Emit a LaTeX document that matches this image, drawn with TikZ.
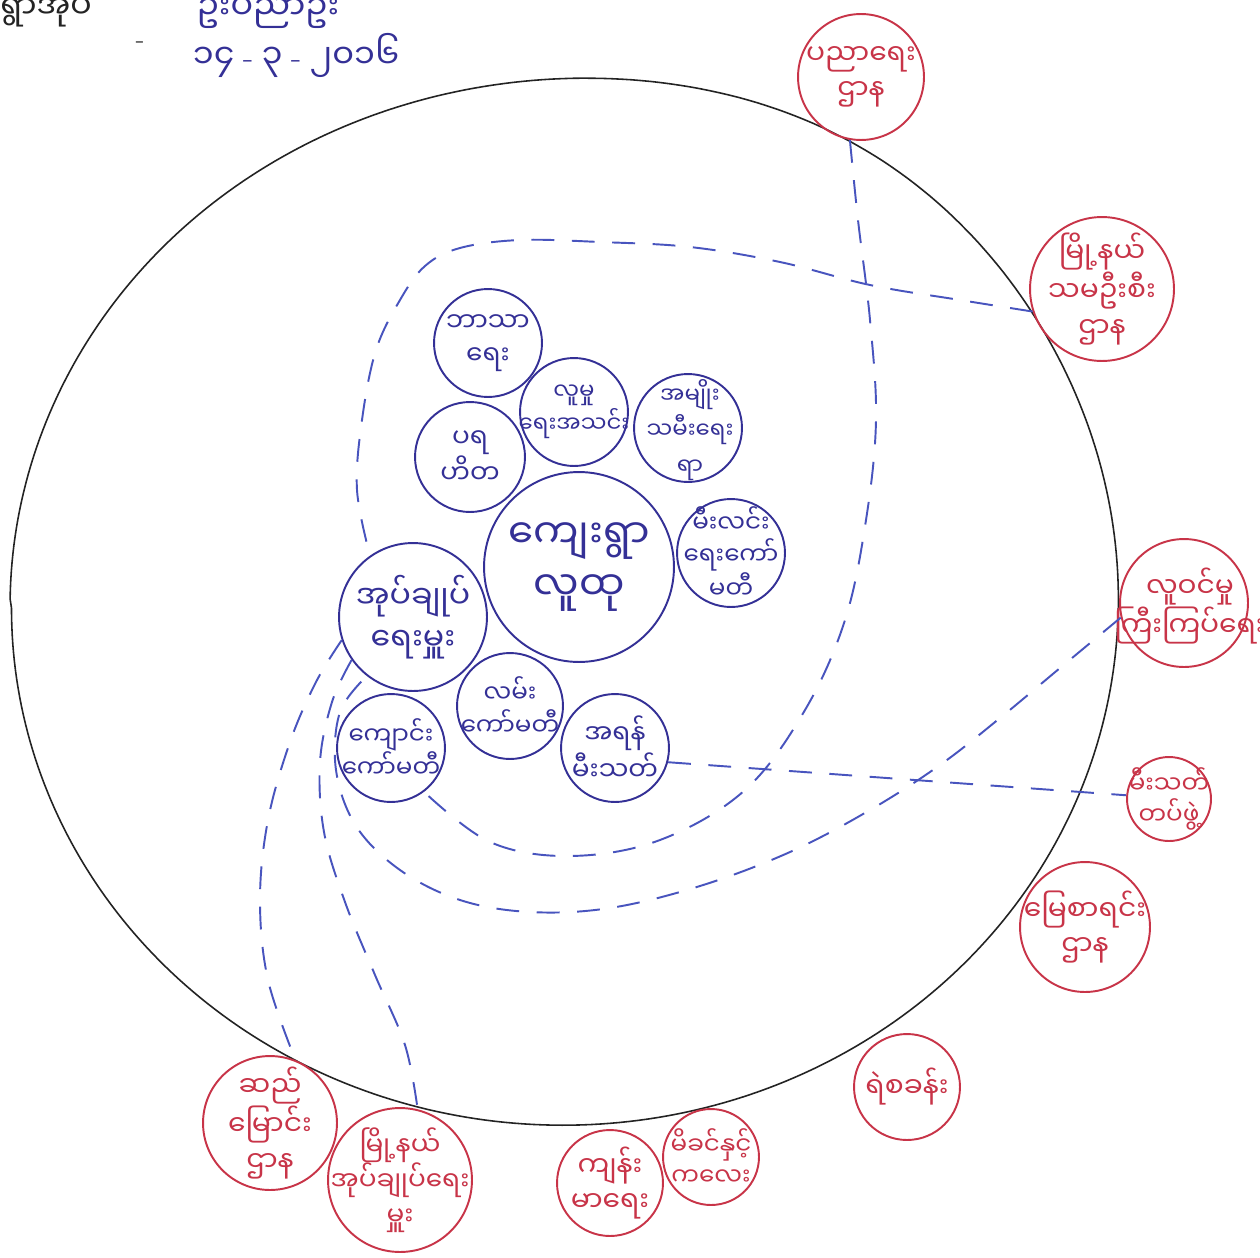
\documentclass[tikz,border=0pt]{standalone}
\usepackage{fontspec}
\newfontfamily\my[Script=Myanmar]{Noto Sans Myanmar UI}
\definecolor{inkblue}{RGB}{52,48,150}
\definecolor{dashblue}{RGB}{72,84,190}
\definecolor{inkred}{RGB}{200,52,72}
\definecolor{inkblack}{RGB}{35,35,35}
\tikzset{
  bcirc/.style={circle, draw=inkblue, line width=1.1pt, inner sep=0pt, minimum size=#1*0.04cm},
  rcirc/.style={circle, draw=inkred, line width=1.1pt, inner sep=0pt, minimum size=#1*0.04cm},
  btxt/.style={text=inkblue, align=center, inner sep=0pt, font=\my\fontsize{15}{19}\selectfont},
  rtxt/.style={text=inkred, align=center, inner sep=0pt, font=\my\fontsize{16}{20}\selectfont},
  link/.style={draw=dashblue, line width=1.1pt, dash pattern=on 13pt off 10pt},
  outer/.style={draw=inkblack, line width=0.9pt, line join=round},
}
\begin{document}
\begin{tikzpicture}[x=0.02cm, y=-0.02cm]
\useasboundingbox (0,0) rectangle (1260,1257);
\fill[white] (0,0) rectangle (1260,1257);

% header
\node[text=inkblack, anchor=west, inner sep=0pt, font=\my\fontsize{18}{22}\selectfont] (h1) at (0,6) {ရွာအုပ်};
\node[text=inkblue, inner sep=0pt, font=\my\fontsize{19}{22}\selectfont] (h2) at (268,6) {ဦးပညာဦး};
\node[text=inkblack, inner sep=0pt, font=\rmfamily\fontsize{16}{20}\selectfont] (h3) at (140,45) {-};
\node[text=inkblue, inner sep=0pt, font=\my\fontsize{19}{22}\selectfont] (h4) at (296,55) {၁၄ {\rmfamily -} ၃ {\rmfamily -} ၂၀၁၆};

% big outer circle
\draw[outer] plot[domain=-180:179, samples=360]
  ({562+550*cos(\x)*(1+0.045/(1+((\x-60)/35)^2))},
   {608-516*sin(\x)*(1+0.045/(1+((\x-60)/35)^2))}) -- cycle;

% red circles (outside actors)
\node[rcirc=63] (p1) at (861,77) {};
\node[rtxt] (p1t) at (p1) {ပညာရေး\\ဌာန};
\node[rcirc=72] (p2) at (1102,289) {};
\node[rtxt] (p2t) at (p2) {မြို့နယ်\\သမဦးစီး\\ဌာန};
\node[rcirc=64] (p3) at (1184,603) {};
\node[rtxt] (p3t) at (1190,606) {လူဝင်မှု\\ကြီးကြပ်ရေး};
\node[rcirc=42] (p4) at (1169,799) {};
\node[rtxt, font=\my\fontsize{14}{18}\selectfont] (p4t) at (p4) {မီးသတ်\\တပ်ဖွဲ့};
\node[rcirc=65] (p5) at (1085,927) {};
\node[rtxt] (p5t) at (p5) {မြေစာရင်း\\ဌာန};
\node[rcirc=53] (p6) at (907,1087) {};
\node[rtxt] (p6t) at (p6) {ရဲစခန်း};
\node[rcirc=53] (p7) at (610,1183) {};
\node[rtxt] (p7t) at (p7) {ကျန်း\\မာရေး};
\node[rcirc=48] (p8) at (711,1157) {};
\node[rtxt, font=\my\fontsize{14}{18}\selectfont] (p8t) at (p8) {မိခင်နှင့်\\ကလေး};
\node[rcirc=67] (p9) at (270,1123) {};
\node[rtxt] (p9t) at (p9) {ဆည်\\မြောင်း\\ဌာန};
\node[rcirc=72] (p10) at (400,1180) {};
\node[rtxt, font=\my\fontsize{15}{20}\selectfont] (p10t) at (p10) {မြို့နယ်\\အုပ်ချုပ်ရေး\\မှူး};

% blue circles (village actors)
\node[bcirc=54] (ba) at (488,343) {};
\node[btxt] (bat) at (ba) {ဘာသာ\\ရေး};
\node[bcirc=54] (lu) at (574,412) {};
\node[btxt, font=\my\fontsize{13}{19}\selectfont] (lut) at (lu) {လူမှု\\ရေးအသင်း};
\node[bcirc=55] (pr) at (470,457) {};
\node[btxt] (prt) at (pr) {ပရ\\ဟိတ};
\node[bcirc=54] (am) at (688,428) {};
\node[btxt, font=\my\fontsize{13}{20}\selectfont] (amt) at (690,430) {အမျိုး\\သမီးရေး\\ရာ};
\node[bcirc=95] (cv) at (579,567) {};
\node[btxt, font=\my\fontsize{23}{30}\selectfont] (cvt) at (cv) {ကျေးရွာ\\လူထု};
\node[bcirc=54] (ml) at (731,553) {};
\node[btxt, font=\my\fontsize{14}{18}\selectfont] (mlt) at (ml) {မီးလင်း\\ရေးကော်\\မတီ};
\node[bcirc=74] (adm) at (413,617) {};
\node[btxt, font=\my\fontsize{18}{24}\selectfont] (admt) at (adm) {အုပ်ချုပ်\\ရေးမှူး};
\node[bcirc=53] (lm) at (510,706) {};
\node[btxt, font=\my\fontsize{14}{19}\selectfont] (lmt) at (lm) {လမ်း\\ကော်မတီ};
\node[bcirc=54] (kj) at (391,748) {};
\node[btxt, font=\my\fontsize{14}{19}\selectfont] (kjt) at (kj) {ကျောင်း\\ကော်မတီ};
\node[bcirc=54] (arn) at (615,748) {};
\node[btxt] (arnt) at (arn) {အရန်\\မီးသတ်};

% dashed links
\draw[link] plot[smooth, tension=0.6] coordinates {(p1.260) (858,220) (870,320) (876,420)
  (866,520) (845,620) (805,710) (745,790) (660,840) (570,856) (490,842) (kj.-53)};
\draw[link] plot[smooth, tension=0.6] coordinates {(p2.198) (960,300) (870,285) (780,262)
  (690,247) (600,242) (520,240) (460,248) (425,266) (400,300) (376,350) (362,420)
  (357,490) (adm.125)};
\draw[link] plot[smooth, tension=0.6] coordinates {(p3.193) (1060,668) (1000,718) (940,765)
  (870,810) (790,852) (700,886) (610,908) (530,912) (460,900) (400,870) (356,826)
  (336,770) (340,712) (adm.232)};
\draw[link] plot[smooth, tension=0.6] coordinates {(adm.198) (316,682) (290,742) (268,820)
  (260,900) (268,980) (p9.68)};
\draw[link] plot[smooth, tension=0.6] coordinates {(adm.215) (332,702) (320,762) (324,832)
  (345,902) (375,975) (405,1045) (p10.76)};
\draw[link] (arn.-15) -- (p4.175);
\end{tikzpicture}
\end{document}
